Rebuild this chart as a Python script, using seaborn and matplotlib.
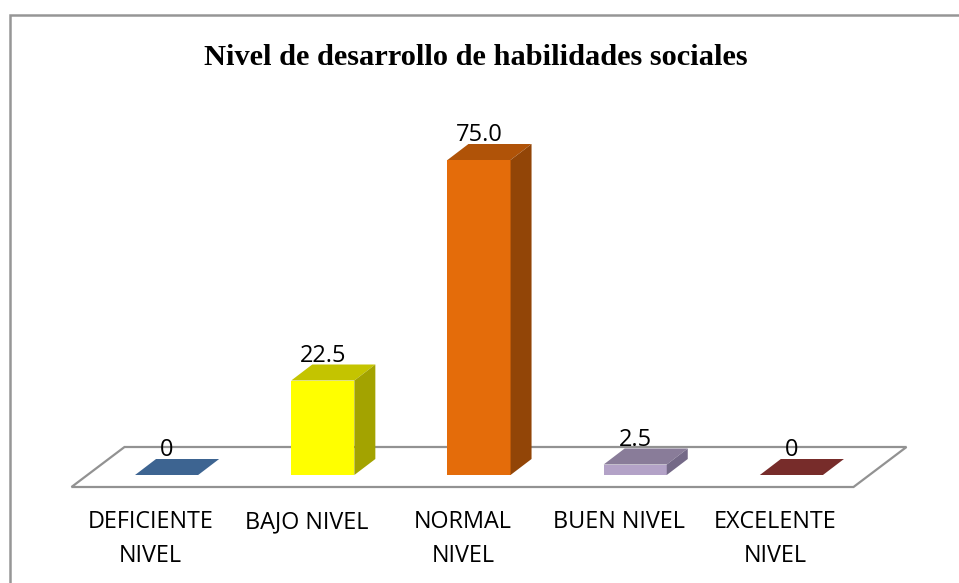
import matplotlib
matplotlib.use('Agg')
import matplotlib.pyplot as plt
from matplotlib.lines import Line2D
from matplotlib.patches import Polygon
import numpy as np
import pandas as pd
import seaborn as sns

categories = ['DEFICIENTE\nNIVEL', 'BAJO NIVEL', 'NORMAL\nNIVEL', 'BUEN NIVEL', 'EXCELENTE\nNIVEL']
values = [0, 22.5, 75.0, 2.5, 0]
value_labels = ['0', '22.5', '75.0', '2.5', '0']
front_colors = ['#3d6491', '#ffff00', '#e46c0a', '#b3a2c7', '#772c2a']
top_colors = ['#3d6491', '#c4c400', '#b05308', '#897c99', '#772c2a']
side_colors = ['#3d6491', '#a3a300', '#924507', '#746987', '#772c2a']
title = 'Nivel de desarrollo de habilidades sociales'

W, H = 959, 583


def px_axes(fig, left, right, top, bottom):
    return fig.add_axes([left / W, 1 - bottom / H, (right - left) / W, (bottom - top) / H])


sns.set_theme(style='white')
plt.rcParams['font.family'] = ['Open Sans', 'DejaVu Sans']

fig = plt.figure(figsize=(W / 100, H / 100), dpi=100, facecolor='white')

# outer frame: only the top and left edges are in the picture
fig.add_artist(Line2D([10 / W, 10 / W, 1.0], [0, 1 - 14.5 / H, 1 - 14.5 / H], transform=fig.transFigure,
                      color='#969696', linewidth=1.8, solid_joinstyle='miter'))

# axes span bar centres, 4.2 px per unit, baseline at y=475
ax = px_axes(fig, 166.5 - 78, 791.5 + 78, 160, 475)
df = pd.DataFrame({'cat': categories, 'val': values})
sns.barplot(data=df, x='cat', y='val', hue='cat', palette=front_colors, legend=False,
            width=0.404, saturation=1, ax=ax, zorder=3, linewidth=0)
ax.set_xlim(-0.5, 4.5)
ax.set_ylim(0, 75)
ax.axis('off')

# one pixel in data units, and depth of the fake 3d
fx = 1 / 156.25
fy = 1 / 4.2
dx = 21 * fx
dy = 16 * fy
half = 0.404 / 2

# floor
floor_pts = np.array([[-0.5 - 17 * fx, -12 * fy], [4.5 - 16 * fx, -12 * fy],
                      [4.5 + 37 * fx, 28 * fy], [-0.5 + 36 * fx, 28 * fy]])
ax.add_patch(Polygon(floor_pts, closed=True, fill=False, edgecolor='#929292', linewidth=1.6,
                     clip_on=False, zorder=1, joinstyle='miter'))

for i, v in enumerate(values):
    left, right = i - half, i + half
    top = Polygon([[left, v], [right, v], [right + dx, v + dy], [left + dx, v + dy]],
                  closed=True, facecolor=top_colors[i], edgecolor='none', clip_on=False, zorder=3)
    ax.add_patch(top)
    if v > 0:
        side = Polygon([[right, 0], [right + dx, dy], [right + dx, v + dy], [right, v]],
                       closed=True, facecolor=side_colors[i], edgecolor='none', clip_on=False, zorder=3)
        ax.add_patch(side)
    ax.text(i, v + dy + 2.5 * fy, value_labels[i], ha='center', va='baseline', fontsize=17, color='black',
            zorder=5, clip_on=False)

# category labels sit below the floor, shifted left of the bars
for i, c in enumerate(categories):
    for j, line in enumerate(c.split('\n')):
        ax.text(i - 16 * fx, (-53.5 - 33 * j) * fy, line, ha='center', va='baseline', fontsize=16.8,
                color='black', clip_on=False)

fig.text(476 / W, 1 - 65 / H, title, ha='center', va='baseline', fontsize=21.9,
         fontweight='bold', family='Liberation Serif', color='black')

fig.savefig('out.png', dpi=100)
